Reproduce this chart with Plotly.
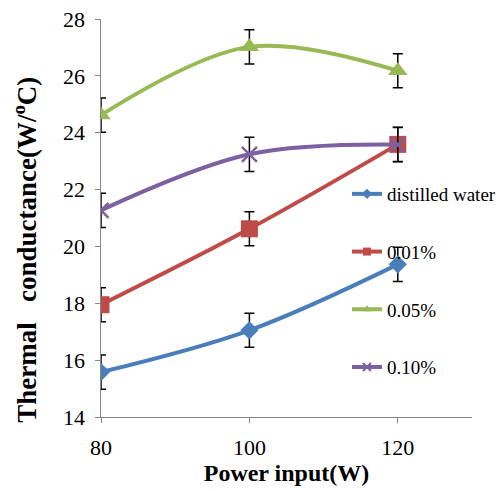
import plotly.graph_objects as go

power = [80, 100, 120]
distilled_water = [15.58, 17.05, 19.37]
pct_001 = [17.95, 20.62, 23.59]
pct_005 = [24.62, 27.02, 26.18]
pct_010 = [21.27, 23.24, 23.58]
err = [0.6, 0.6, 0.6]
names = ["distilled water", "0.01%", "0.05%", "0.10%"]
colors = ["#4A7EBB", "#BE4B48", "#98B954", "#7D60A0"]
symbols = ["diamond", "square", "triangle-up", "x-thin-open"]
sizes = [14, 17, 17, 15]
series = [distilled_water, pct_001, pct_005, pct_010]

FONT = "'Liberation Serif', 'Times New Roman', serif"
fig = go.Figure()
for i, (name, ys) in enumerate(zip(names, series)):
    marker = dict(symbol=symbols[i], size=sizes[i], color=colors[i])
    if symbols[i] == "x-thin-open":
        marker["line"] = dict(color=colors[i], width=2.5)
    fig.add_trace(go.Scatter(
        x=power, y=ys, name=name, mode="lines+markers",
        line=dict(color=colors[i], width=4, shape="spline", smoothing=1),
        marker=marker,
        error_y=dict(type="data", array=err, visible=True, color="black",
                     thickness=1.5, width=5),
        legendgroup=name, showlegend=False,
    ))

# legend entries with small markers, like the reference legend
for i, name in enumerate(names):
    lm = dict(symbol=symbols[i], size=8, color=colors[i])
    if symbols[i] == "x-thin-open":
        lm["line"] = dict(color=colors[i], width=2)
    fig.add_trace(go.Scatter(
        x=[None], y=[None], name=name, mode="lines+markers",
        line=dict(color=colors[i], width=4), marker=lm,
        legendgroup=name, showlegend=True,
    ))

axis_common = dict(showline=True, linecolor="#868686", linewidth=1,
                   ticks="outside", ticklen=5, tickcolor="#868686",
                   showgrid=False, zeroline=False,
                   tickfont=dict(family=FONT, size=22, color="black"))

fig.update_layout(
    width=498, height=491,
    margin=dict(l=101, r=26, t=19, b=74, autoexpand=False),
    plot_bgcolor="white", paper_bgcolor="white",
    xaxis=dict(range=[80, 130], tickvals=[80, 100, 120], ticklabelstandoff=6,
               title=dict(text="<b>Power input(W)</b>",
                          font=dict(family=FONT, size=24, color="black"),
                          standoff=0),
               **axis_common),
    yaxis=dict(range=[14, 28], dtick=2, ticksuffix="\u00a0", **axis_common),
    legend=dict(x=0.663, y=0.608, xanchor="left", yanchor="top",
                bgcolor="rgba(0,0,0,0)", tracegroupgap=30,
                font=dict(family=FONT, size=19, color="black")),
    annotations=[dict(
        text="<b>Thermal\u00a0\u00a0\u00a0conductance(W/<sup>o</sup>C)</b>",
        textangle=-90, xref="paper", yref="paper", x=0, y=0.42,
        xanchor="center", yanchor="middle", xshift=-76, showarrow=False,
        font=dict(family=FONT, size=27, color="black"))],
)

fig.write_html("out.html")
